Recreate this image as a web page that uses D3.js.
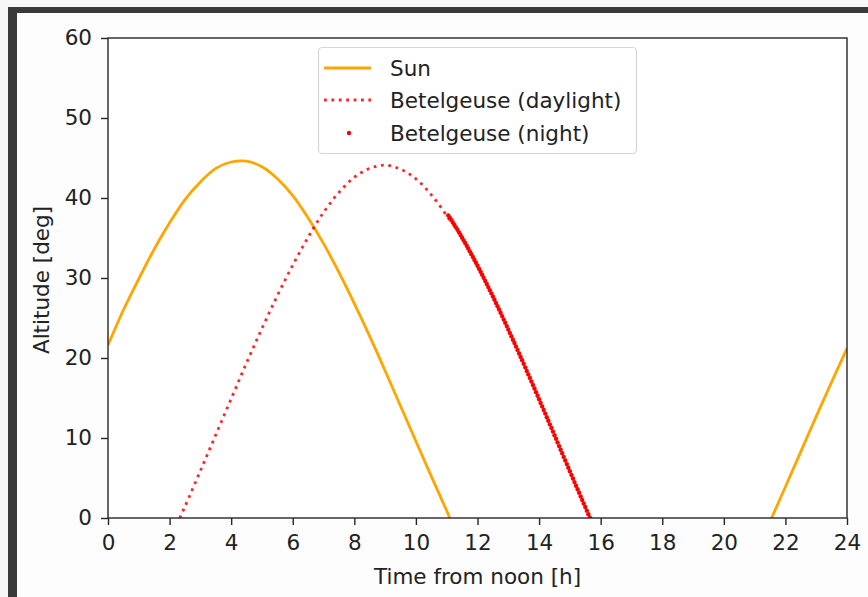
<!DOCTYPE html>
<html><head><meta charset="utf-8">
<script src="https://cdn.jsdelivr.net/npm/d3@7"></script>
<style>
html,body{margin:0;padding:0;background:#fff;}
svg{display:block;font-family:"DejaVu Sans",sans-serif;}
</style></head>
<body>
<script>
// Sun altitude (visible parts only), hours from noon
const sunDayTimes = [0,0.5,1,1.5,2,2.5,3,3.5,4,4.5,5,5.5,6,6.5,7,7.5,8,8.5,9,9.5,10,10.5,11,11.1];
const sunDayAlt   = [21.6,26.0,29.9,33.6,36.9,39.8,42.0,43.7,44.5,44.6,43.9,42.4,40.3,37.5,34.3,30.7,26.8,22.7,18.4,14.0,9.6,5.2,0.9,0];
const sunEveTimes = [21.55,22,22.5,23,23.5,24];
const sunEveAlt   = [0,3.9,8.3,12.7,17.0,21.2];

// Betelgeuse during daylight (dotted line)
const betDayTimes = [2.33,2.5,3,3.5,4,4.5,5,5.5,6,6.5,7,7.5,8,8.5,9,9.5,10,10.5,11,11.1];
const betDayAlt   = [0,1.45,5.9,10.4,14.9,19.4,23.7,27.8,31.6,35.1,38.2,40.7,42.6,43.7,44.1,43.6,42.4,40.4,37.8,37.2];

// Betelgeuse during night (scatter)
const betNightTimes = [11.05,11.10,11.15,11.20,11.25,11.30,11.35,11.40,11.45,11.50,11.55,11.60,11.65,11.70,11.75,11.80,11.85,11.90,11.95,12.00,
  12.05,12.10,12.15,12.20,12.25,12.30,12.35,12.40,12.45,12.50,12.55,12.60,12.65,12.70,12.75,12.80,12.85,12.90,12.95,13.00,
  13.05,13.10,13.15,13.20,13.25,13.30,13.35,13.40,13.45,13.50,13.55,13.60,13.65,13.70,13.75,13.80,13.85,13.90,13.95,14.00,
  14.05,14.10,14.15,14.20,14.25,14.30,14.35,14.40,14.45,14.50,14.55,14.60,14.65,14.70,14.75,14.80,14.85,14.90,14.95,15.00,
  15.05,15.10,15.15,15.20,15.25,15.30,15.35,15.40,15.45,15.50,15.55,15.60,15.65];
const betNightAlt = [37.83,37.54,37.25,36.94,36.63,36.33,36.02,35.70,35.37,35.04,34.70,34.37,34.03,33.68,33.33,32.98,32.62,32.26,31.90,31.53,
  31.16,30.79,30.41,30.03,29.64,29.25,28.86,28.47,28.08,27.68,27.28,26.88,26.47,26.06,25.65,25.24,24.82,24.41,23.99,23.57,
  23.14,22.72,22.29,21.87,21.44,21.01,20.57,20.14,19.71,19.27,18.83,18.39,17.95,17.51,17.07,16.63,16.18,15.73,15.28,14.84,
  14.39,13.95,13.50,13.05,12.60,12.15,11.70,11.25,10.80,10.35,9.90,9.45,8.99,8.54,8.09,7.64,7.19,6.74,6.29,5.84,
  5.39,4.94,4.49,4.04,3.59,3.15,2.70,2.26,1.81,1.37,0.92,0.48,0.03];

const xTicks = [0,2,4,6,8,10,12,14,16,18,20,22,24];
const yTicks = [0,10,20,30,40,50,60];
const legendLabels = ["Sun","Betelgeuse (daylight)","Betelgeuse (night)"];

const W = 868, H = 597;
const FS = "21.5px";
const svg = d3.select("body").append("svg").attr("width", W).attr("height", H);

// screenshot frame
svg.append("rect").attr("x",0).attr("y",0).attr("width",W).attr("height",H).attr("fill","#f7f7f7");
svg.append("rect").attr("x",8).attr("y",7).attr("width",W-8).attr("height",H-7).attr("fill","#3a3a3a");
svg.append("rect").attr("x",17).attr("y",13).attr("width",W-17).attr("height",H-13).attr("fill","#fdfdfd");

const mLeft = 108, mRight = 847, mTop = 38, mBottom = 518;
const x = d3.scaleLinear().domain([0,24]).range([mLeft,mRight]);
const y = d3.scaleLinear().domain([0,60]).range([mBottom,mTop]);

svg.append("rect").attr("x",mLeft).attr("y",mTop).attr("width",mRight-mLeft).attr("height",mBottom-mTop).attr("fill","#ffffff");

svg.append("defs").append("clipPath").attr("id","clip")
  .append("rect").attr("x",mLeft).attr("y",mTop).attr("width",mRight-mLeft).attr("height",mBottom-mTop);

const plot = svg.append("g").attr("clip-path","url(#clip)");

const sunDay = sunDayTimes.map((t,i)=>[t,sunDayAlt[i]]);
const sunEve = sunEveTimes.map((t,i)=>[t,sunEveAlt[i]]);
const betDay = betDayTimes.map((t,i)=>[t,betDayAlt[i]]);
const betNight = betNightTimes.map((t,i)=>[t,betNightAlt[i]]);

const curve = d3.line().curve(d3.curveCatmullRom.alpha(0.5)).x(d=>x(d[0])).y(d=>y(d[1]));
[sunDay, sunEve].forEach(seg=>{
  plot.append("path").attr("d", curve(seg)).attr("fill","none")
    .attr("stroke","#ffa500").attr("stroke-width",2.8).attr("stroke-linejoin","round");
});
plot.append("path").attr("d", curve(betDay)).attr("fill","none")
  .attr("stroke","#ff0000").attr("stroke-width",2.8)
  .attr("stroke-dasharray","2.8 4.6").attr("stroke-opacity",0.85);
plot.selectAll("circle.night").data(betNight).enter().append("circle")
  .attr("class","night").attr("cx",d=>x(d[0])).attr("cy",d=>y(d[1])).attr("r",2.2).attr("fill","#ff0000");

// axes
const xAxis = d3.axisBottom(x).tickValues(xTicks).tickSize(7).tickPadding(10).tickFormat(d3.format("d"));
const yAxis = d3.axisLeft(y).tickValues(yTicks).tickSize(7).tickPadding(9).tickFormat(d3.format("d"));
const gx = svg.append("g").attr("transform",`translate(0,${mBottom})`).call(xAxis);
const gy = svg.append("g").attr("transform",`translate(${mLeft},0)`).call(yAxis);
[gx,gy].forEach(g=>{
  g.select(".domain").remove();
  g.selectAll(".tick line").attr("stroke","#262626").attr("stroke-width",1.4);
  g.selectAll(".tick text").attr("fill","#222").style("font-size",FS).style("font-family","DejaVu Sans");
});
// spines
svg.append("rect").attr("x",mLeft).attr("y",mTop).attr("width",mRight-mLeft).attr("height",mBottom-mTop)
  .attr("fill","none").attr("stroke","#262626").attr("stroke-width",1.4);

// axis labels
svg.append("text").attr("x",(mLeft+mRight)/2).attr("y",584).attr("text-anchor","middle")
  .attr("fill","#222").style("font-size",FS).text("Time from noon [h]");
svg.append("text").attr("transform",`translate(49,${(mTop+mBottom)/2 + 2}) rotate(-90)`).attr("text-anchor","middle")
  .attr("fill","#222").style("font-size",FS).text("Altitude [deg]");

// legend
const lg = svg.append("g");
lg.append("rect").attr("x",318.5).attr("y",47.5).attr("width",318).attr("height",106).attr("rx",4)
  .attr("fill","#ffffff").attr("fill-opacity",0.8).attr("stroke","#d6d6d6").attr("stroke-width",1.2);
const rowsY = [68,100,133];
lg.append("line").attr("x1",324).attr("x2",371).attr("y1",rowsY[0]).attr("y2",rowsY[0])
  .attr("stroke","#ffa500").attr("stroke-width",2.8);
lg.append("line").attr("x1",324).attr("x2",371).attr("y1",rowsY[1]).attr("y2",rowsY[1])
  .attr("stroke","#ff0000").attr("stroke-width",2.8).attr("stroke-dasharray","2.8 4.6").attr("stroke-opacity",0.85);
lg.append("circle").attr("cx",349).attr("cy",rowsY[2]).attr("r",2.2).attr("fill","#ff0000");
legendLabels.forEach((s,i)=>{
  lg.append("text").attr("x",390).attr("y",rowsY[i]).attr("dy","0.35em")
    .attr("fill","#222").style("font-size",FS).text(s);
});
</script>
</body></html>
